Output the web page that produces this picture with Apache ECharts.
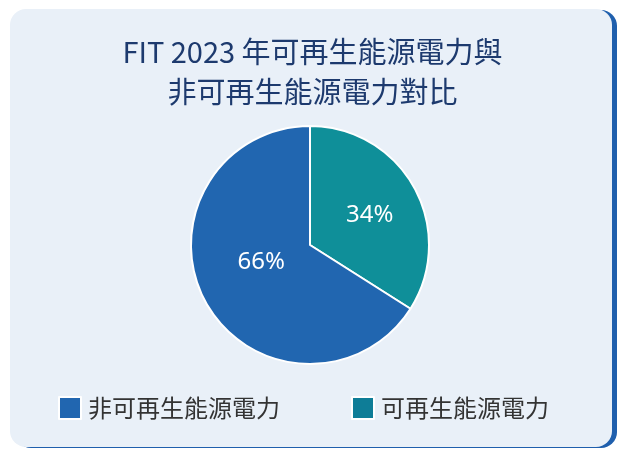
<!DOCTYPE html>
<html>
<head>
    <meta charset="utf-8" />
    <title>FIT 2023</title>
    <script src="https://cdn.jsdelivr.net/npm/echarts@6/dist/echarts.min.js"></script>
    <style>
        html, body { margin: 0; padding: 0; background: #ffffff; }
        #card {
            position: absolute; left: 10px; top: 9px; width: 602px; height: 438px;
            background: #e9f0f8; border-radius: 16px;
            box-shadow: 5px 1px 0 #1f5fad;
        }
        #main { position: absolute; left: 0; top: 0; width: 625px; height: 454px; }
    </style>
</head>
<body>
    <div id="card"></div>
    <div id="main"></div>

    <script type="text/javascript">
        var titleLines = ['FIT 2023 年可再生能源電力與', '非可再生能源電力對比'];
        var categories = ['可再生能源電力', '非可再生能源電力'];
        var values = [34, 66];
        var colors = ['#0f8f99', '#2166b0'];
        var legendOrder = ['非可再生能源電力', '可再生能源電力'];
        var legendColors = ['#2166b0', '#0e7d97'];
        // nudges so labels sit where the original put them
        var labelOffsets = [[5, 0], [6, -13]];

        var myChart = echarts.init(document.getElementById('main'));

        var data = categories.map(function (name, i) {
            return {
                name: name,
                value: values[i],
                itemStyle: { color: colors[i] },
                label: { offset: labelOffsets[i] }
            };
        });

        var option = {
            backgroundColor: 'transparent',
            title: {
                text: titleLines.join('\n'),
                left: 'center',
                top: 27,
                textStyle: {
                    fontFamily: 'Noto Sans CJK TC',
                    fontSize: 29,
                    fontWeight: 'normal',
                    color: '#1d3a6e',
                    lineHeight: 40
                }
            },
            legend: {
                data: legendOrder.map(function (name, i) {
                    return { name: name, itemStyle: { color: legendColors[i] } };
                }),
                left: 53,
                top: 391,
                itemWidth: 22,
                itemHeight: 22,
                itemGap: 71,
                icon: 'rect',
                textStyle: {
                    fontFamily: 'Noto Sans CJK TC',
                    fontSize: 24,
                    color: '#333333',
                    padding: [0, 0, 0, 2]
                }
            },
            series: [
                {
                    type: 'pie',
                    center: [310, 245],
                    radius: [0, 119],
                    startAngle: 90,
                    clockwise: true,
                    itemStyle: { borderColor: '#ffffff', borderWidth: 2 },
                    label: {
                        position: 'inside',
                        formatter: '{c}%',
                        color: '#ffffff',
                        fontFamily: 'Noto Sans',
                        fontSize: 24
                    },
                    emphasis: { disabled: true },
                    data: data
                }
            ]
        };

        myChart.setOption(option);
    </script>
</body>
</html>
